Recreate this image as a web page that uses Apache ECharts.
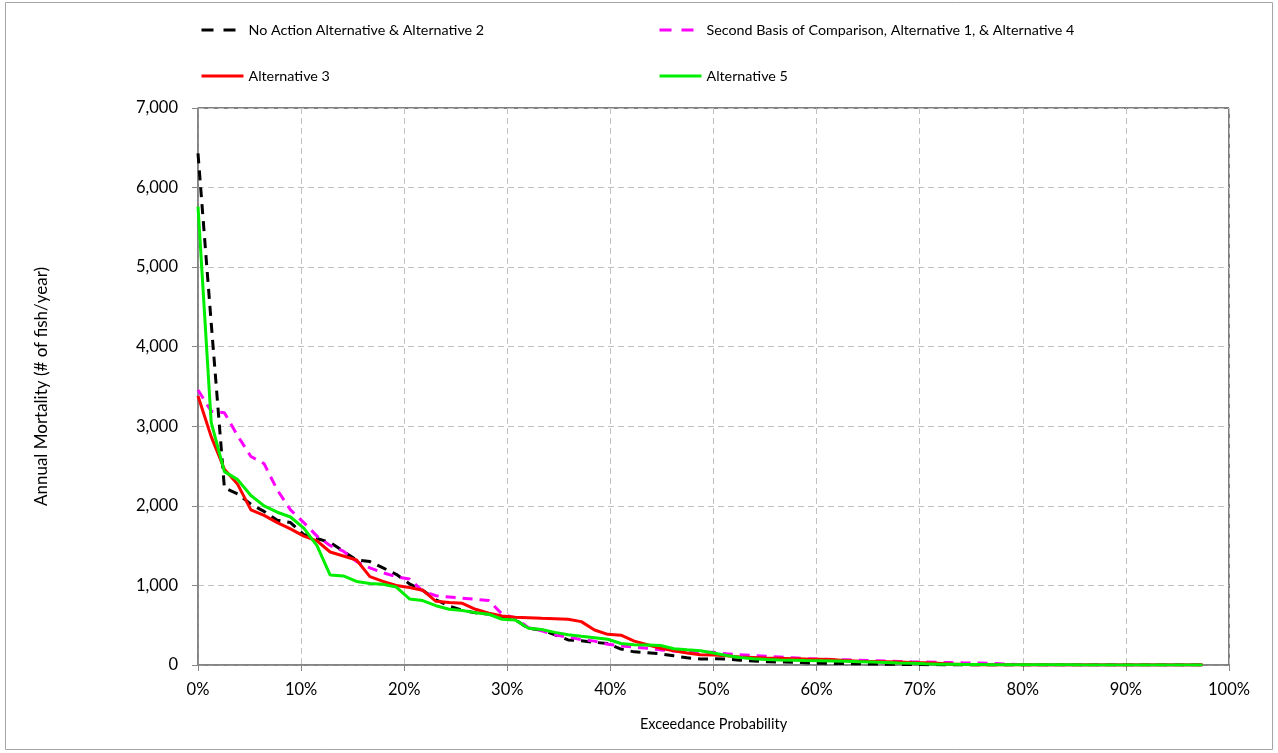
<!DOCTYPE html>
<html>
<head>
<meta charset="utf-8">
<script src="https://cdn.jsdelivr.net/npm/echarts@6/dist/echarts.min.js"></script>
<style>
  html, body { margin: 0; padding: 0; background: #fff; }
  #chart { width: 1278px; height: 753px; }
</style>
</head>
<body>
<div id="chart"></div>
<script>
// Exceedance probability (%) of each ranked year
const exceedance = [
  0, 1.28, 2.56, 3.85, 5.13, 6.41, 7.69, 8.97, 10.26, 11.54,
  12.82, 14.10, 15.38, 16.67, 17.95, 19.23, 20.51, 21.79, 23.08, 24.36,
  25.64, 26.92, 28.21, 29.49, 30.77, 32.05, 33.33, 34.62, 35.90, 37.18,
  38.46, 39.74, 41.03, 42.31, 43.59, 44.87, 46.15, 47.44, 48.72, 50.00,
  51.28, 52.56, 53.85, 55.13, 56.41, 57.69, 58.97, 60.26, 61.54, 62.82,
  64.10, 65.38, 66.67, 67.95, 69.23, 70.51, 71.79, 73.08, 74.36, 75.64,
  76.92, 78.21, 79.49, 80.77, 82.05, 83.33, 84.62, 85.90, 87.18, 88.46,
  89.74, 91.03, 92.31, 93.59, 94.87, 96.15, 97.44
];

// Annual mortality (# of fish/year)
const noActionAlt2 = [
  6430, 4300, 2225, 2150, 2020, 1930, 1820, 1790, 1640, 1590,
  1540, 1430, 1320, 1300, 1220, 1140, 1020, 940, 820, 740,
  690, 655, 640, 600, 570, 460, 440, 380, 315, 305,
  285, 270, 200, 165, 155, 140, 115, 90, 75, 78,
  75, 60, 50, 40, 38, 33, 28, 22, 20, 18,
  15, 12, 10, 8, 6, 4, 2, 0, 0, 0,
  0, 0, 0, 0, 0, 0, 0, 0, 0, 0,
  0, 0, 0, 0, 0, 0, 0
];
const secondBasisAlt1Alt4 = [
  3456, 3190, 3170, 2880, 2620, 2530, 2200, 1950, 1790, 1620,
  1500, 1430, 1300, 1220, 1160, 1110, 1080, 930, 870, 855,
  840, 825, 810, 640, 590, 470, 430, 380, 350, 320,
  300, 260, 240, 225, 210, 190, 175, 165, 160, 160,
  140, 130, 118, 110, 100, 90, 80, 75, 70, 65,
  60, 55, 50, 45, 40, 38, 34, 30, 26, 24,
  20, 12, 5, 2, 0, 0, 0, 0, 0, 0,
  0, 0, 0, 0, 0, 0, 0
];
const alternative3 = [
  3380, 2870, 2460, 2270, 1950, 1880, 1790, 1710, 1620, 1560,
  1420, 1370, 1320, 1110, 1050, 1000, 975, 940, 800, 785,
  775, 700, 650, 615, 600, 595, 588, 582, 575, 545,
  440, 385, 375, 300, 255, 210, 180, 150, 130, 125,
  115, 100, 95, 88, 84, 80, 75, 72, 68, 55,
  48, 45, 42, 38, 32, 28, 22, 12, 5, 0,
  0, 0, 0, 0, 0, 0, 0, 0, 0, 0,
  0, 0, 0, 0, 0, 0, 0
];
const alternative5 = [
  5760, 3050, 2430, 2330, 2130, 2000, 1920, 1860, 1720, 1500,
  1130, 1120, 1050, 1025, 1015, 980, 830, 810, 745, 700,
  685, 658, 638, 575, 566, 461, 445, 410, 380, 360,
  343, 323, 270, 255, 252, 245, 205, 192, 180, 150,
  120, 95, 80, 70, 64, 60, 56, 53, 50, 46,
  42, 37, 32, 26, 21, 15, 10, 8, 6, 5,
  4, 4, 3, 3, 2, 2, 2, 1, 1, 1,
  1, 1, 0, 0, 0, 0, 0
];

const seriesNames = [
  'No Action Alternative & Alternative 2',
  'Second Basis of Comparison, Alternative 1, & Alternative 4',
  'Alternative 3',
  'Alternative 5'
];

const FONT = 'Lato';
const pairs = (ys) => ys.map((y, i) => [exceedance[i], y]);

const chart = echarts.init(document.getElementById('chart'), null, { renderer: 'canvas' });

// Legend entries show only the line sample, no marker
const legendBase = {
  orient: 'horizontal',
  padding: 0,
  itemWidth: 42,
  itemHeight: 14,
  selectedMode: false,
  itemStyle: { opacity: 0 },
  textStyle: { fontFamily: FONT, fontSize: 14.3, color: '#000' }
};

chart.setOption({
  animation: false,
  backgroundColor: '#fff',
  graphic: [{
    type: 'rect',
    shape: { x: 5.5, y: 2.5, width: 1267, height: 747 },
    style: { fill: 'none', stroke: '#a6a6a6', lineWidth: 1 },
    silent: true
  }],
  legend: [
    Object.assign({}, legendBase, { left: 200, top: 23, data: [seriesNames[0]],
      lineStyle: { type: [12, 10], width: 3 } }),
    Object.assign({}, legendBase, { left: 658, top: 23, data: [seriesNames[1]],
      lineStyle: { type: [12, 10], width: 3 } }),
    Object.assign({}, legendBase, { left: 200, top: 69, data: [seriesNames[2]],
      lineStyle: { width: 3 } }),
    Object.assign({}, legendBase, { left: 658, top: 69, data: [seriesNames[3]],
      lineStyle: { width: 3 } })
  ],
  grid: {
    left: 198, top: 108, right: 49, bottom: 88,
    show: true, borderColor: '#000', borderWidth: 1, backgroundColor: '#fff'
  },
  xAxis: {
    type: 'value',
    min: 0, max: 100, interval: 10,
    name: 'Exceedance Probability',
    nameLocation: 'middle',
    nameGap: 52,
    nameTextStyle: { fontFamily: FONT, fontSize: 14.5, color: '#000' },
    axisLine: { show: true, onZero: false, lineStyle: { color: '#868686', width: 1.5 } },
    axisTick: { show: true, length: 6, lineStyle: { color: '#868686' } },
    axisLabel: { fontFamily: FONT, fontSize: 16.5, color: '#000', margin: 16,
      formatter: (v) => v + '%' },
    splitLine: { show: true, lineStyle: { color: '#c0c0c0', type: [6, 4], width: 1 } }
  },
  yAxis: {
    type: 'value',
    min: 0, max: 7000, interval: 1000,
    name: 'Annual Mortality (# of fish/year)',
    nameLocation: 'middle',
    nameGap: 148,
    nameRotate: 90,
    nameTextStyle: { fontFamily: FONT, fontSize: 17, color: '#000' },
    axisLine: { show: true, lineStyle: { color: '#868686', width: 1.5 } },
    axisTick: { show: true, length: 6, lineStyle: { color: '#868686' } },
    axisLabel: { fontFamily: FONT, fontSize: 16.5, color: '#000', margin: 20,
      formatter: (v) => v.toLocaleString('en-US') },
    splitLine: { show: true, lineStyle: { color: '#c0c0c0', type: [6, 4], width: 1 } }
  },
  series: [
    { name: seriesNames[0], type: 'line', data: pairs(noActionAlt2), symbol: 'none',
      color: '#000000', lineStyle: { color: '#000000', width: 3, type: [10, 7] } },
    { name: seriesNames[1], type: 'line', data: pairs(secondBasisAlt1Alt4), symbol: 'none',
      color: '#ff00ff', lineStyle: { color: '#ff00ff', width: 3, type: [10, 7] } },
    { name: seriesNames[2], type: 'line', data: pairs(alternative3), symbol: 'none',
      color: '#ff0000', lineStyle: { color: '#ff0000', width: 3 } },
    { name: seriesNames[3], type: 'line', data: pairs(alternative5), symbol: 'none',
      color: '#00ee00', lineStyle: { color: '#00ee00', width: 3 } }
  ]
});
</script>
</body>
</html>
